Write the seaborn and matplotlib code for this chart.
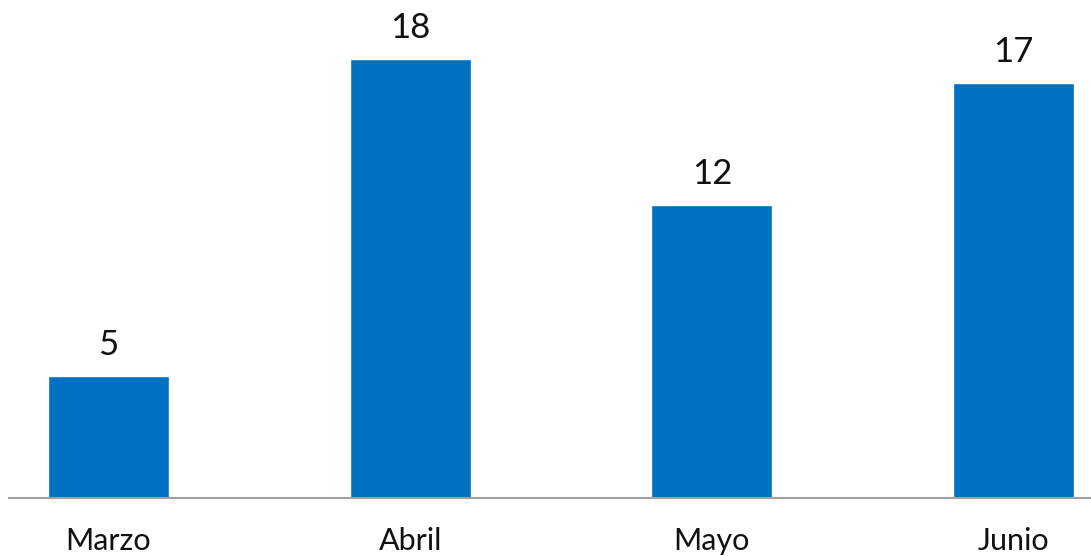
import matplotlib
matplotlib.use("Agg")
import matplotlib.pyplot as plt
import seaborn as sns
import pandas as pd

meses = ["Marzo", "Abril", "Mayo", "Junio"]
valores = [5, 18, 12, 17]

sns.set_style("white")
plt.rcParams['font.family'] = ['Lato', 'DejaVu Sans']

df = pd.DataFrame({"mes": meses, "valor": valores})

fig = plt.figure(figsize=(10.91, 5.56), dpi=100)
ax = fig.add_axes([9 / 1091, 58.5 / 556, 1082 / 1091, 497.5 / 556])

sns.barplot(data=df, x="mes", y="valor", color="#0070C0", saturation=1,
            width=0.401, ax=ax)

# etiquetas de valor encima de cada barra
for i, v in enumerate(valores):
    ax.text(i, v + 0.6, str(v), ha="center", va="bottom", fontsize=25, color="#111111")

ax.set_xlim(-0.33, 3.257)
ax.set_ylim(0, 20.4)
ax.set_xlabel("")
ax.set_ylabel("")
ax.set_yticks([])
ax.tick_params(axis="x", length=0, pad=21, labelsize=22, labelcolor="#111111")
for s in ["top", "right", "left"]:
    ax.spines[s].set_visible(False)
ax.spines["bottom"].set_color("#a0a0a0")
ax.spines["bottom"].set_linewidth(1.5)

fig.savefig("out.png", dpi=100)
